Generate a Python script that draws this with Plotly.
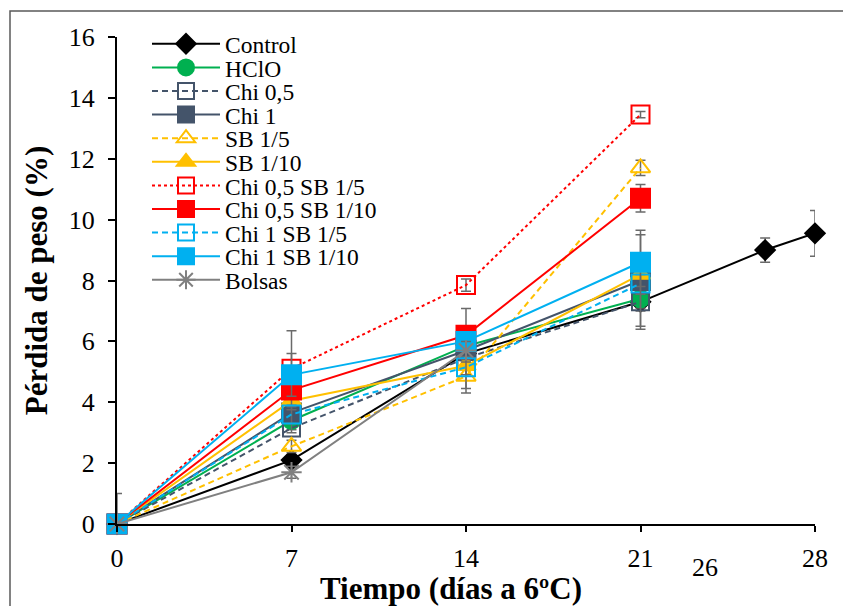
import plotly.graph_objects as go

# ---- data ----
days = [0, 7, 14, 21]
control_days = [0, 7, 14, 21, 26, 28]
bolsas_days = [0, 7, 14]

control = [0, 2.1, 5.6, 7.3, 9.0, 9.55]
hclo = [0, 3.4, 5.85, 7.4]
chi05 = [0, 3.15, 5.45, 7.3]
chi1 = [0, 3.65, 5.7, 8.0]
sb15 = [0, 2.55, 4.85, 11.7]
sb110 = [0, 4.05, 5.2, 8.2]
chi05_sb15 = [0, 5.1, 7.85, 13.45]
chi05_sb110 = [0, 4.4, 6.2, 10.7]
chi1_sb15 = [0, 3.6, 5.15, 7.9]
chi1_sb110 = [0, 4.9, 6.0, 8.6]
bolsas = [0, 1.7, 5.7]

err_control = [0, 0.15, 0.3, 0.9, 0.4, 0.75]
err_hclo = [0, 0.3, 0.3, 0.3]
err_chi05 = [0, 0.15, 0.3, 0.3]
err_chi1 = [0, 0.3, 0.3, 1.5]
err_sb15 = [0, 0.2, 0.55, 0.25]
err_sb110 = [0, 0.3, 0.3, 0.4]
err_chi05_sb15 = [0, 1.25, 0.2, 0.1]
err_chi05_sb110 = [0, 0.3, 0.88, 0.45]
err_chi1_sb15 = [0, 0.3, 0.7, 0.3]
err_chi1_sb110 = [0, 0.7, 0.3, 1.05]
err_bolsas = [1.0, 0.2, 0.3]

x_ticks = [0, 7, 14, 21, 28]

FONT = "'Liberation Serif', 'Times New Roman', serif"
ERRC = "#6a6a6a"

series = [
    ("Control", control_days, control, err_control, "#000000", "solid", "diamond", 15),
    ("HClO", days, hclo, err_hclo, "#00B050", "solid", "circle", 17),
    ("Chi 0,5", days, chi05, err_chi05, "#44546A", "dash", "square-open", 17),
    ("Chi 1", days, chi1, err_chi1, "#44546A", "solid", "square", 19),
    ("SB 1/5", days, sb15, err_sb15, "#FFC000", "dash", "triangle-up-open", 17),
    ("SB 1/10", days, sb110, err_sb110, "#FFC000", "solid", "triangle-up", 17),
    ("Chi 0,5 SB 1/5", days, chi05_sb15, err_chi05_sb15, "#FF0000", "dot", "square-open", 18),
    ("Chi 0,5 SB 1/10", days, chi05_sb110, err_chi05_sb110, "#FF0000", "solid", "square", 19),
    ("Chi 1 SB 1/5", days, chi1_sb15, err_chi1_sb15, "#00B0F0", "dash", "square-open", 18),
    ("Chi 1 SB 1/10", days, chi1_sb110, err_chi1_sb110, "#00B0F0", "solid", "square", 19),
    ("Bolsas", bolsas_days, bolsas, err_bolsas, "#808080", "solid", "asterisk-open", 17),
]

# plot area in reference pixels: x 117..815, y 37..524
W, H = 843, 606
plot_left, plot_right = 117.0, 815.0
plot_top, plot_bottom = 37.0, 524.0
plot_w = plot_right - plot_left
plot_h = plot_bottom - plot_top

fig = go.Figure()
layout_legends = {}
y0_px = 44.0
step_px = 23.6

for i, (name, xs, ys, es, color, dash, symbol, size) in enumerate(series):
    lg = "legend" if i == 0 else f"legend{i + 1}"
    dash_style = {"dash": "6px,4px", "dot": "3px,3px"}.get(dash, dash)
    fig.add_trace(go.Scatter(
        x=xs, y=ys, name=name, mode="lines+markers",
        line=dict(color=color, width=2, dash=dash_style),
        marker=dict(symbol=symbol, size=size, color=color,
                    line=dict(color=color, width=2)),
        error_y=dict(type="data", array=es, visible=True, color=ERRC,
                     thickness=1.5, width=5),
        cliponaxis=False, legend=lg,
    ))
    ypx = y0_px + i * step_px
    layout_legends[lg] = dict(
        x=(147 - plot_left) / plot_w, xanchor="left",
        y=(plot_bottom - ypx) / plot_h, yanchor="middle",
        bgcolor="rgba(0,0,0,0)", borderwidth=0,
        font=dict(family=FONT, size=23.5, color="#000000"),
        itemwidth=68, tracegroupgap=0,
    )

fig.update_layout(
    width=W, height=H,
    margin=dict(l=plot_left, r=W - plot_right, t=plot_top,
                b=H - plot_bottom, autoexpand=False),
    paper_bgcolor="white", plot_bgcolor="white",
    font=dict(family=FONT, size=26, color="#000000"),
    showlegend=True,
    **layout_legends,
)

fig.update_xaxes(
    range=[0, 28], tickvals=x_ticks, ticktext=[str(v) for v in x_ticks],
    showline=True, linecolor="#000000", linewidth=2,
    ticks="outside", ticklen=6, tickwidth=1.5, tickcolor="#000000",
    ticklabelstandoff=4,
    showgrid=False, zeroline=False,
    tickfont=dict(family=FONT, size=26, color="#000000"),
)
fig.update_yaxes(
    range=[0, 16], dtick=2,
    showline=True, linecolor="#000000", linewidth=2,
    ticks="outside", ticklen=7, tickwidth=1.5, tickcolor="#000000",
    ticklabelstandoff=8,
    showgrid=False, zeroline=False,
    tickfont=dict(family=FONT, size=26, color="#000000"),
    title=dict(text="<b>Pérdida de peso (%)</b>", font=dict(family=FONT, size=31), standoff=12),
)

# x axis title
fig.add_annotation(
    text="<b>Tiempo (días a 6ºC)</b>", xref="paper", yref="paper",
    x=(451 - plot_left) / plot_w, y=(plot_bottom - 588) / plot_h,
    xanchor="center", yanchor="middle",
    showarrow=False, font=dict(family=FONT, size=31, color="#000000"),
)
# stray label
fig.add_annotation(
    text="26", xref="paper", yref="paper",
    x=(705 - plot_left) / plot_w, y=(plot_bottom - 567) / plot_h,
    xanchor="center", yanchor="middle",
    showarrow=False, font=dict(family=FONT, size=26, color="#000000"),
)
# outer chart frame
fig.add_shape(
    type="rect", xref="paper", yref="paper",
    x0=(10 - plot_left) / plot_w, x1=(870 - plot_left) / plot_w,
    y0=(plot_bottom - 630) / plot_h, y1=(plot_bottom - 11) / plot_h,
    line=dict(color="#595959", width=1.5), fillcolor="rgba(0,0,0,0)", layer="below",
)

fig.write_html(
    "out.html",
    config={"displayModeBar": False},
    post_script="document.body.style.margin='0';document.body.style.overflow='hidden';",
)
